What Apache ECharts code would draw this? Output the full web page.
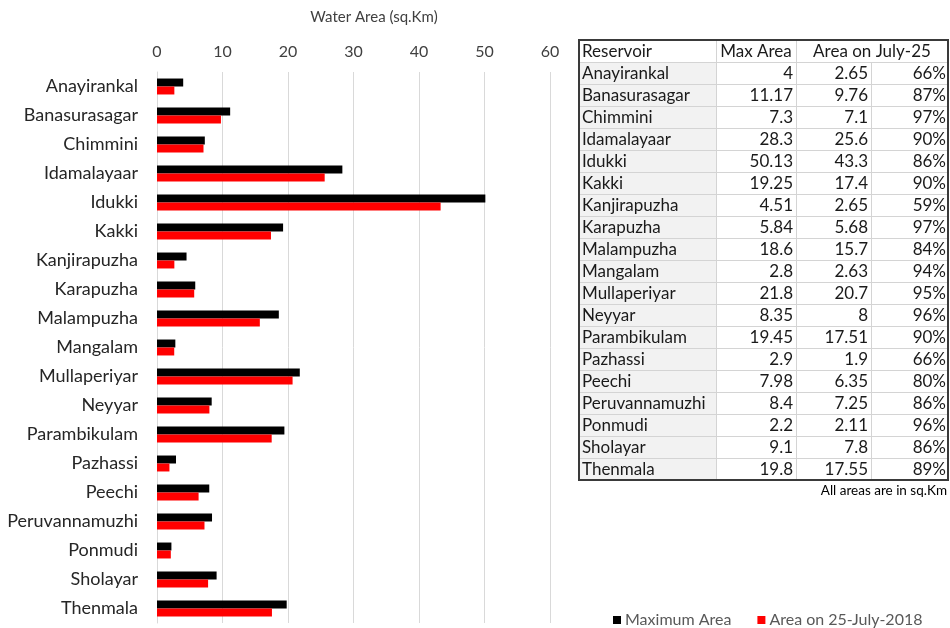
<!DOCTYPE html>
<html>
<head>
<meta charset="utf-8">
<script src="https://cdn.jsdelivr.net/npm/echarts@6/dist/echarts.min.js"></script>
<style>
  html, body { margin: 0; padding: 0; background: #fff; }
  #chart { width: 950px; height: 628px; }
</style>
</head>
<body>
<div id="chart"></div>
<script>
// Reservoirs of Kerala: full water-spread area vs. area on 25 July 2018
const reservoirs = ['Anayirankal', 'Banasurasagar', 'Chimmini', 'Idamalayaar', 'Idukki', 'Kakki',
  'Kanjirapuzha', 'Karapuzha', 'Malampuzha', 'Mangalam', 'Mullaperiyar', 'Neyyar', 'Parambikulam',
  'Pazhassi', 'Peechi', 'Peruvannamuzhi', 'Ponmudi', 'Sholayar', 'Thenmala'];
const maxArea = [4, 11.17, 7.3, 28.3, 50.13, 19.25, 4.51, 5.84, 18.6, 2.8, 21.8, 8.35, 19.45,
  2.9, 7.98, 8.4, 2.2, 9.1, 19.8];
const julyArea = [2.65, 9.76, 7.1, 25.6, 43.3, 17.4, 2.65, 5.68, 15.7, 2.63, 20.7, 8, 17.51,
  1.9, 6.35, 7.25, 2.11, 7.8, 17.55];
const fillPct = ['66%', '87%', '97%', '90%', '86%', '90%', '59%', '97%', '84%', '94%', '95%',
  '96%', '90%', '66%', '80%', '86%', '96%', '86%', '89%'];
const seriesNames = ['Maximum Area', 'Area on 25-July-2018'];
const tableHeader = ['Reservoir', 'Max Area', 'Area on July-25'];
const axisMin = 0, axisMax = 60, axisStep = 10;

// ---- summary table drawn with graphic elements ----
const FONT = 'Lato, "Open Sans", sans-serif';
const tblTop = 40, rowH = 22;
const colX = [579, 716, 796, 871, 948];
const nRows = reservoirs.length + 1;
const tblBottom = tblTop + nRows * rowH;
const tbl = [];

// grey shading of the name column
tbl.push({ type: 'rect', shape: { x: colX[0], y: tblTop + rowH, width: colX[1] - colX[0], height: reservoirs.length * rowH },
  style: { fill: '#f2f2f2' }, silent: true });

// horizontal rules
for (let r = 1; r < nRows; r++) {
  const y = tblTop + r * rowH + 0.5;
  tbl.push({ type: 'line', shape: { x1: colX[0], y1: y, x2: colX[4], y2: y },
    style: { stroke: '#d4d4d4', lineWidth: 1 }, silent: true });
}
// vertical rules
[1, 2].forEach(c => tbl.push({ type: 'line', shape: { x1: colX[c] + 0.5, y1: tblTop, x2: colX[c] + 0.5, y2: tblBottom },
  style: { stroke: '#d4d4d4', lineWidth: 1 }, silent: true }));
tbl.push({ type: 'line', shape: { x1: colX[3] + 0.5, y1: tblTop + rowH, x2: colX[3] + 0.5, y2: tblBottom },
  style: { stroke: '#d4d4d4', lineWidth: 1 }, silent: true });
// outer frame
tbl.push({ type: 'rect', shape: { x: colX[0], y: tblTop, width: colX[4] - colX[0], height: tblBottom - tblTop },
  style: { fill: null, stroke: '#3a3a3a', lineWidth: 2 }, silent: true });

function cell(text, x, y, align) {
  tbl.push({ type: 'text', x: x, y: y, silent: true,
    style: { text: text, fill: '#1a1a1a', font: '17px ' + FONT, textAlign: align, textVerticalAlign: 'middle' } });
}
const hy = tblTop + rowH / 2 + 1;
cell(tableHeader[0], colX[0] + 3, hy, 'left');
cell(tableHeader[1], (colX[1] + colX[2]) / 2, hy, 'center');
cell(tableHeader[2], (colX[2] + colX[4]) / 2, hy, 'center');
reservoirs.forEach((name, i) => {
  const y = tblTop + (i + 1) * rowH + rowH / 2 + 1;
  cell(name, colX[0] + 3, y, 'left');
  cell(String(maxArea[i]), colX[2] - 3, y, 'right');
  cell(String(julyArea[i]), colX[3] - 3, y, 'right');
  cell(fillPct[i], colX[4] - 2, y, 'right');
});
tbl.push({ type: 'text', x: colX[4] - 1, y: tblBottom + 11, silent: true,
  style: { text: 'All areas are in sq.Km', fill: '#000', font: '13.5px ' + FONT, textAlign: 'right', textVerticalAlign: 'middle' } });

// axis title above the value axis
tbl.push({ type: 'text', x: 374, y: 17, silent: true,
  style: { text: 'Water Area (sq.Km)', fill: '#404040', font: '15px ' + FONT, textAlign: 'center', textVerticalAlign: 'middle' } });

const chart = echarts.init(document.getElementById('chart'), null, { renderer: 'canvas' });
chart.setOption({
  animation: false,
  textStyle: { fontFamily: FONT },
  grid: { left: 157, right: 400, top: 72, bottom: 5, containLabel: false },
  xAxis: {
    type: 'value', position: 'top', min: axisMin, max: axisMax, interval: axisStep,
    axisLine: { show: false }, axisTick: { show: false },
    axisLabel: { color: '#404040', fontSize: 16, margin: 12 },
    splitLine: { lineStyle: { color: '#d9d9d9', width: 1 } }
  },
  yAxis: {
    type: 'category', data: reservoirs, inverse: true,
    axisLine: { lineStyle: { color: '#d9d9d9' } }, axisTick: { show: false },
    axisLabel: { color: '#262626', fontSize: 18, margin: 19 }
  },
  legend: {
    left: 608, top: 607, itemWidth: 8, itemHeight: 8, itemGap: 26, icon: 'rect',
    textStyle: { color: '#595959', fontSize: 16, padding: [0, 0, 0, -1] },
    data: seriesNames
  },
  series: [
    { name: seriesNames[0], type: 'bar', data: maxArea, barGap: '0%', barCategoryGap: '45%',
      itemStyle: { color: '#000000' } },
    { name: seriesNames[1], type: 'bar', data: julyArea, barGap: '0%', barCategoryGap: '45%',
      itemStyle: { color: '#ff0000' } }
  ],
  graphic: tbl
});
</script>
</body>
</html>
